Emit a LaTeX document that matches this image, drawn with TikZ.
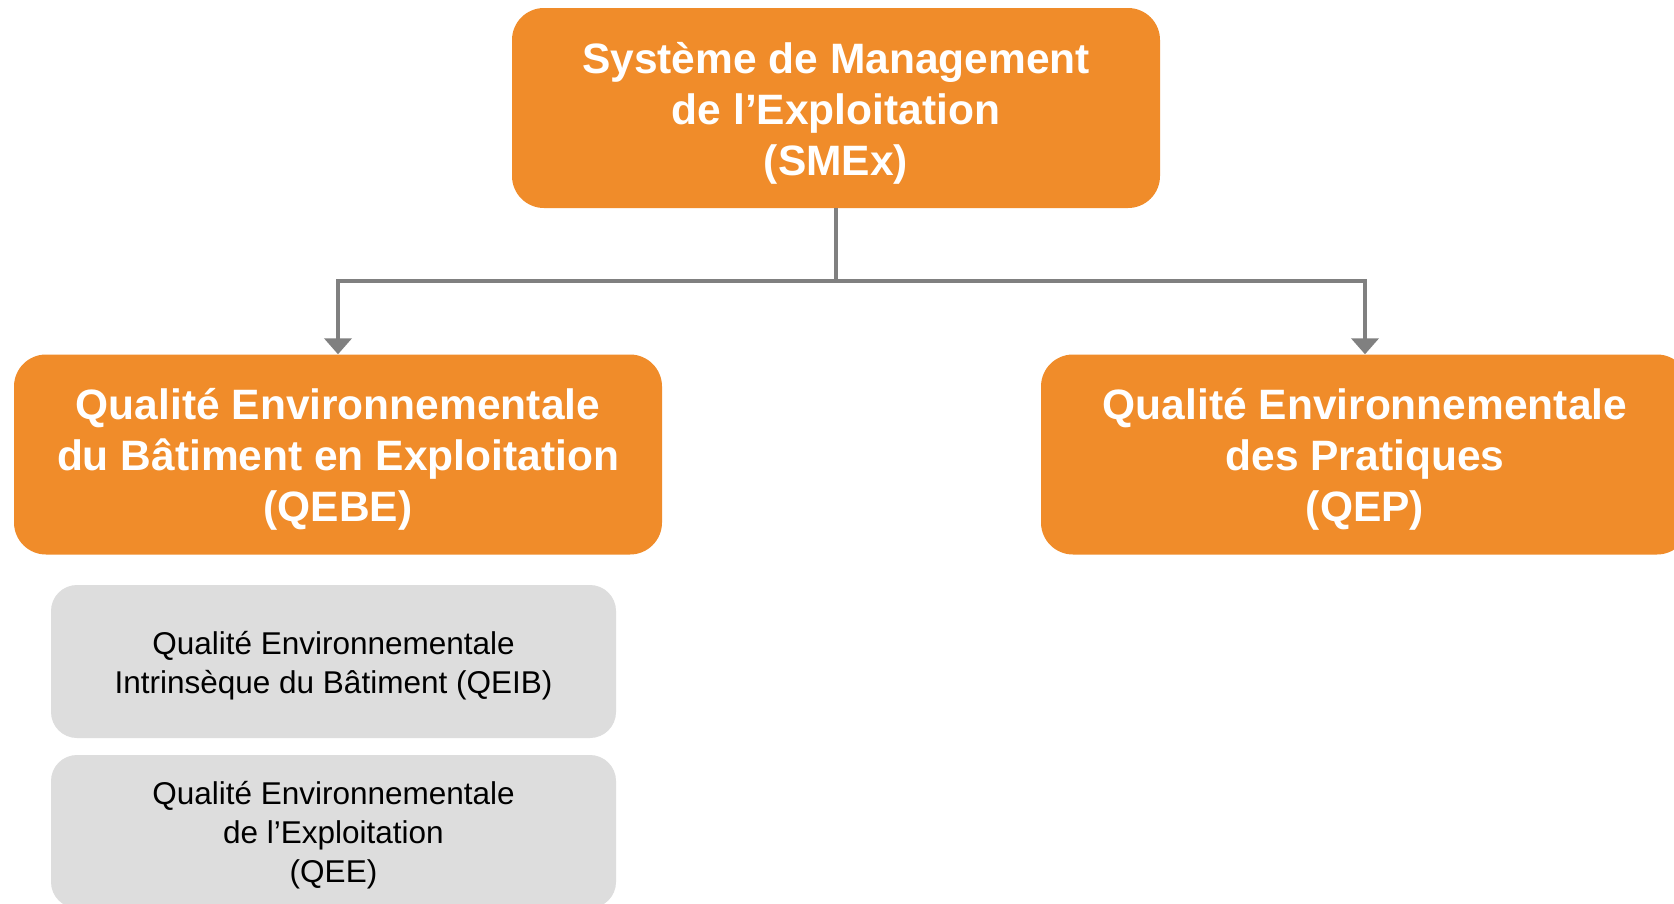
\documentclass[tikz,border=0pt]{standalone}
\usepackage{fontspec}
\setmainfont{Liberation Sans}
\usetikzlibrary{arrows.meta,calc}
\definecolor{boxorange}{HTML}{F08C2A}
\definecolor{boxgray}{HTML}{DDDDDD}
\definecolor{linegray}{HTML}{808080}
\begin{document}
\begin{tikzpicture}[x=1pt,y=-1pt,
  mainbox/.style={fill=boxorange, draw=none, rounded corners=32pt, minimum width=648pt, minimum height=200pt, inner sep=0pt},
  maintext/.style={text=white, align=center, inner sep=0pt, font=\fontsize{42.5}{51}\selectfont\bfseries},
  subbox/.style={fill=boxgray, draw=none, rounded corners=26pt, minimum width=565pt, minimum height=153pt, inner sep=0pt},
  subtext/.style={text=black, align=center, inner sep=0pt, font=\fontsize{31.5}{39}\selectfont},
  conn/.style={draw=linegray, line width=4pt},
  arr/.style={conn, -{Triangle[length=16pt,width=27pt]}}]
\useasboundingbox (0,0) rectangle (1674,903);
\clip (0,0) rectangle (1674,903);
\fill[white] (0,0) rectangle (1674,903);
\node[mainbox] (top) at (836,108) {};
\node[maintext] (toptxt) at ($(top.center)+(0,5)$) {Système de Management\\de l’Exploitation\\(SMEx)};
\node[mainbox] (left) at (338,454.5) {};
\node[maintext] (lefttxt) at ($(left.center)+(0,5)$) {Qualité Environnementale\\du Bâtiment en Exploitation\\(QEBE)};
\node[mainbox] (right) at (1365,454.5) {};
\node[maintext] (righttxt) at ($(right.center)+(0,5)$) {Qualité Environnementale\\des Pratiques\\(QEP)};
\node[subbox] (qeib) at (333.5,661.5) {};
\node[subtext] (qeibtxt) at ($(qeib.center)+(0,4)$) {Qualité Environnementale\\Intrinsèque du Bâtiment (QEIB)};
\node[subbox] (qee) at (333.5,831.5) {};
\node[subtext] (qeetxt) at ($(qee.center)+(0,4)$) {Qualité Environnementale\\de l’Exploitation\\(QEE)};
\coordinate (j) at ($(top.south)+(0,73)$);
\draw[conn] (top.south) -- (j);
\draw[arr] (j) -| (left.north);
\draw[arr] (j) -| (right.north);
\end{tikzpicture}
\end{document}
